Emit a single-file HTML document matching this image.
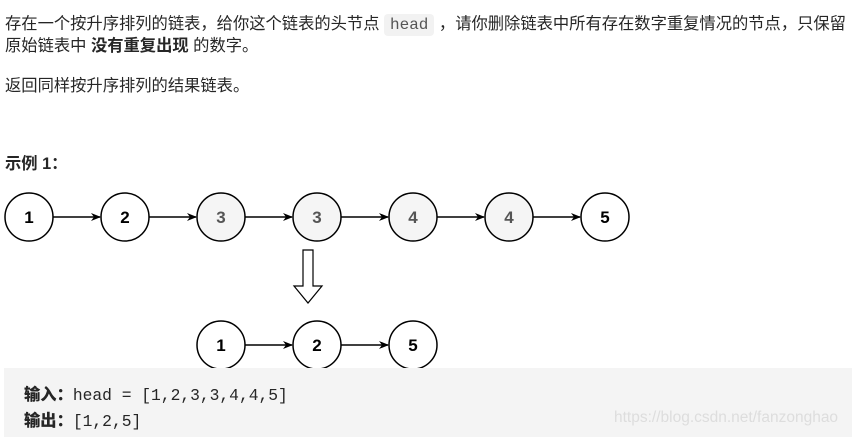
<!DOCTYPE html>
<html><head><meta charset="utf-8"><style>
body{margin:0;width:852px;height:437px;background:#fff;position:relative;overflow:hidden;font-family:"Liberation Sans","Noto Sans CJK SC",sans-serif;color:#262626;font-size:16.3px}
.t{position:absolute;left:5px;white-space:nowrap;line-height:22px}
code{font-family:"Liberation Mono",monospace;background:#f2f2f2;color:#555;padding:2px 6px;border-radius:4px;font-size:16px}
.box{position:absolute;left:4px;top:368px;width:848px;height:69px;background:#f4f4f4}
.m{position:absolute;left:24px;font-family:"Liberation Mono","Noto Sans CJK SC",monospace;font-size:16.3px;color:#262626;line-height:20px}
</style></head><body>
<div class="t" style="top:13px">存在一个按升序排列的链表，给你这个链表的头节点 <code>head</code> ，请你删除链表中所有存在数字重复情况的节点，只保留</div>
<div class="t" style="top:35px">原始链表中 <b>没有重复出现</b> 的数字。</div>
<div class="t" style="top:75px">返回同样按升序排列的结果链表。</div>
<div class="t" style="top:153px;font-weight:bold">示例 1：</div>
<svg width="852" height="370" style="position:absolute;left:0;top:0">
<defs><marker id="a" markerWidth="10" markerHeight="8" refX="9" refY="4" orient="auto" markerUnits="userSpaceOnUse"><path d="M0,0 L10,4 L0,8 L3,4z" fill="#000"/></marker></defs>
<g stroke="#000" stroke-width="1.5" font-family="Liberation Sans,sans-serif" font-weight="bold" font-size="17" text-anchor="middle">
<g fill="#fff"><circle cx="29" cy="217" r="24"/><circle cx="125" cy="217" r="24"/><circle cx="605" cy="217" r="24"/>
<circle cx="221" cy="345" r="24"/><circle cx="317" cy="345" r="24"/><circle cx="413" cy="345" r="24"/></g>
<g fill="#f5f5f5"><circle cx="221" cy="217" r="24"/><circle cx="317" cy="217" r="24"/><circle cx="413" cy="217" r="24"/><circle cx="509" cy="217" r="24"/></g>
<g marker-end="url(#a)"><line x1="53" y1="217" x2="100" y2="217"/><line x1="149" y1="217" x2="196" y2="217"/><line x1="245" y1="217" x2="292" y2="217"/><line x1="341" y1="217" x2="388" y2="217"/><line x1="437" y1="217" x2="484" y2="217"/><line x1="533" y1="217" x2="580" y2="217"/>
<line x1="245" y1="345" x2="292" y2="345"/><line x1="341" y1="345" x2="388" y2="345"/></g>
<path d="M303,250 H313 V286 H322 L308,303 L294,286 H303Z" fill="#fff" stroke-width="1.2"/>
<g stroke="none" fill="#000"><text x="29" y="223">1</text><text x="125" y="223">2</text><text x="605" y="223">5</text><text x="221" y="351">1</text><text x="317" y="351">2</text><text x="413" y="351">5</text></g>
<g stroke="none" fill="#555"><text x="221" y="223">3</text><text x="317" y="223">3</text><text x="413" y="223">4</text><text x="509" y="223">4</text></g>
</g></svg>
<div class="box"></div>
<div class="m" style="top:383px"><b style="font-family:'Noto Sans CJK SC',sans-serif;font-weight:900">输入：</b>head = [1,2,3,3,4,4,5]</div>
<div class="m" style="top:409px"><b style="font-family:'Noto Sans CJK SC',sans-serif;font-weight:900">输出：</b>[1,2,5]</div>
<div style="position:absolute;left:614px;top:409px;font-size:15.5px;color:#ddd;font-family:'Liberation Sans',sans-serif">https://blog.csdn.net/fanzonghao</div>
</body></html>
